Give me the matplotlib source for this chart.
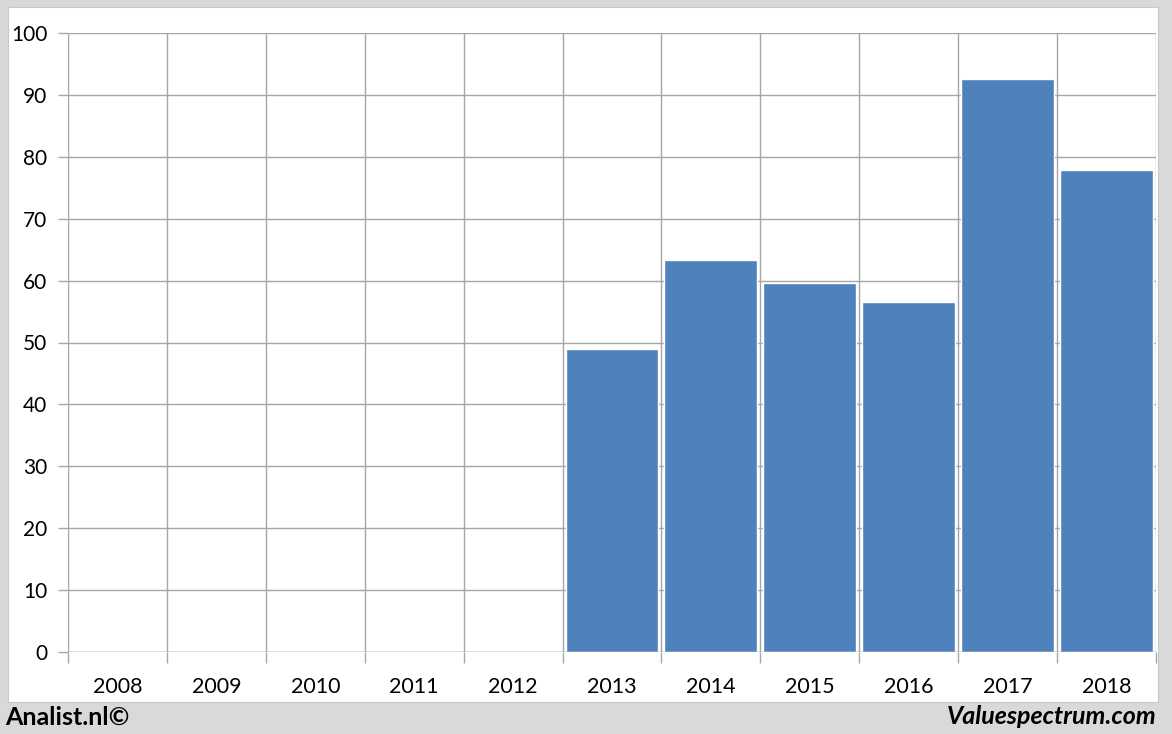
import numpy as np
import matplotlib
matplotlib.use("Agg")
import matplotlib.pyplot as plt
from matplotlib.patches import Rectangle

# data
years = ["2008", "2009", "2010", "2011", "2012", "2013", "2014", "2015", "2016", "2017", "2018"]
values = [0, 0, 0, 0, 0, 48.9, 63.4, 59.6, 56.5, 92.5, 77.8]
y_ticks = [0, 10, 20, 30, 40, 50, 60, 70, 80, 90, 100]

plt.rcParams["font.family"] = ["Lato", "DejaVu Sans"]

fig = plt.figure(figsize=(11.72, 7.34), dpi=100)
fig.patch.set_facecolor("#d9d9d9")

# white inner panel
W, H = 1172, 734
fig.patches.append(Rectangle((8 / W, (H - 702) / H), 1150 / W, 695 / H,
                             transform=fig.transFigure, facecolor="white",
                             edgecolor="#c8c8c8", linewidth=0.8, zorder=0))

ax = fig.add_axes([68 / W, (H - 652) / H, 1088 / W, 619 / H])
ax.set_facecolor("none")
ax.set_zorder(2)

x = np.arange(len(years))
ax.bar(x, values, width=0.94, color="#4f81bd", edgecolor="white", linewidth=1, zorder=3)

ax.set_xlim(-0.5, len(years) - 0.5)
ax.set_ylim(0, 100)
ax.set_yticks(y_ticks)
ax.set_xticks(x)
ax.set_xticklabels(years)
ax.set_xticks(np.arange(len(years) + 1) - 0.5, minor=True)

grid_c = "#a6a6a6"
ax.grid(axis="y", which="major", color=grid_c, linewidth=1, zorder=1)
ax.grid(axis="x", which="minor", color=grid_c, linewidth=1, zorder=1)
ax.set_axisbelow(True)
for s in ax.spines.values():
    s.set_visible(False)
ax.axhline(0, color=grid_c, linewidth=1, zorder=4)

ax.tick_params(axis="x", which="major", length=0, pad=18, labelsize=15.5)
ax.tick_params(axis="x", which="minor", length=8, color=grid_c, width=1)
ax.tick_params(axis="y", length=7, color=grid_c, width=1, pad=8, labelsize=15)

fig.text(5 / W, (H - 717) / H, "Analist.nl©", fontsize=18, fontweight="bold",
         ha="left", va="center")
fig.text(1157 / W, (H - 717) / H, "Valuespectrum.com", fontsize=18,
         fontweight="bold", fontstyle="italic", ha="right", va="center")

fig.savefig("out.png", dpi=100, facecolor=fig.get_facecolor())
